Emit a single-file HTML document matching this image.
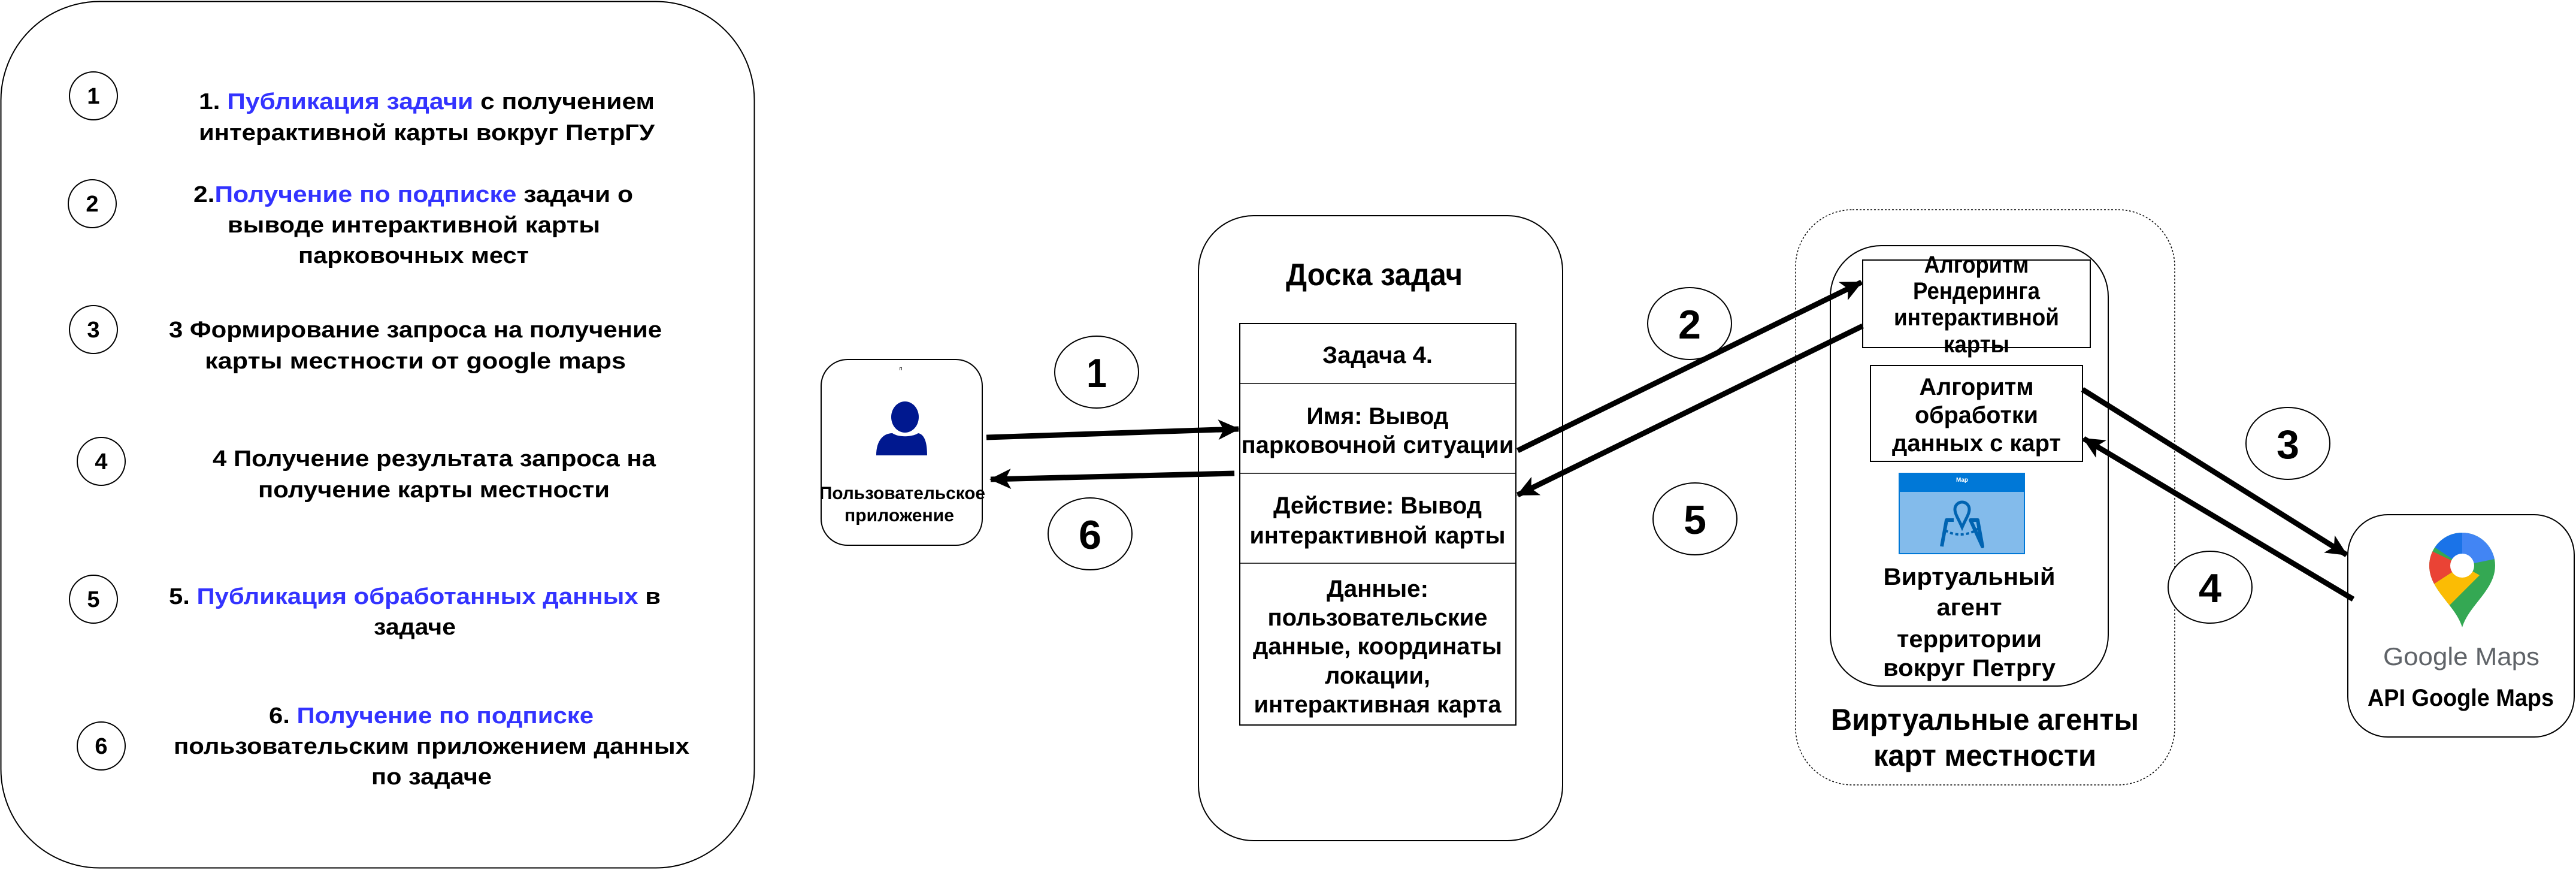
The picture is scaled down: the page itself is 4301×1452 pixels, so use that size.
<!DOCTYPE html>
<html><head><meta charset="utf-8"><style>
html,body{margin:0;padding:0;background:#fff;width:4301px;height:1452px;overflow:hidden}
svg{display:block}
text{font-family:"Liberation Sans",Arial,sans-serif;font-weight:bold;fill:#000}
.L{font-size:38px}
.c{font-size:40px}
.b{fill:#3333ff}
</style></head><body>
<svg width="4301" height="1452" viewBox="0 0 4301 1452" xmlns="http://www.w3.org/2000/svg">
<defs>
<marker id="ah" markerUnits="userSpaceOnUse" markerWidth="40" markerHeight="34" refX="34" refY="17" orient="auto">
<path d="M0,0 L36,17 L0,34 L9,17 Z" fill="#000"/>
</marker>
<clipPath id="pin"><path d="M4111 1047 C4100 1010 4056 985 4056 944 A55 55 0 1 1 4166 944 C4166 985 4122 1010 4111 1047 Z"/></clipPath>
</defs>

<!-- left panel -->
<rect x="1.5" y="2.5" width="1258" height="1446" rx="165" ry="165" fill="#fff" stroke="#000" stroke-width="2"/>
<g fill="#fff" stroke="#000" stroke-width="2">
<ellipse cx="156" cy="160" rx="40" ry="40"/>
<ellipse cx="154" cy="340" rx="40" ry="40"/>
<ellipse cx="156" cy="550" rx="40" ry="40"/>
<ellipse cx="169" cy="770" rx="40" ry="40"/>
<ellipse cx="156" cy="1000" rx="40" ry="40"/>
<ellipse cx="169" cy="1245" rx="40" ry="40"/>
</g>
<g class="L" text-anchor="middle">
<text x="156" y="173">1</text>
<text x="154" y="353">2</text>
<text x="156" y="563">3</text>
<text x="169" y="783">4</text>
<text x="156" y="1013">5</text>
<text x="169" y="1258">6</text>
</g>
<g class="L">
<text x="332" y="182" textLength="761" lengthAdjust="spacingAndGlyphs">1.  <tspan class="b">Публикация задачи</tspan> с получением</text>
<text x="332" y="234" textLength="761" lengthAdjust="spacingAndGlyphs">интерактивной карты вокруг ПетрГУ</text>
<text x="323" y="337" textLength="734" lengthAdjust="spacingAndGlyphs">2.<tspan class="b">Получение  по подписке</tspan> задачи о</text>
<text x="380" y="388" textLength="622" lengthAdjust="spacingAndGlyphs">выводе интерактивной карты</text>
<text x="498" y="439" textLength="385" lengthAdjust="spacingAndGlyphs">парковочных мест</text>
<text x="282" y="563" textLength="823" lengthAdjust="spacingAndGlyphs">3 Формирование запроса на получение</text>
<text x="342" y="615" textLength="703" lengthAdjust="spacingAndGlyphs">карты местности  от  google maps</text>
<text x="355" y="778" textLength="740" lengthAdjust="spacingAndGlyphs">4 Получение результата запроса на</text>
<text x="431" y="830" textLength="587" lengthAdjust="spacingAndGlyphs">получение карты местности</text>
<text x="282" y="1008" textLength="821" lengthAdjust="spacingAndGlyphs">5. <tspan class="b">Публикация обработанных данных</tspan> в</text>
<text x="624" y="1059" textLength="137" lengthAdjust="spacingAndGlyphs">задаче</text>
<text x="449" y="1207" textLength="542" lengthAdjust="spacingAndGlyphs">6. <tspan class="b">Получение по подписке</tspan></text>
<text x="290" y="1258" textLength="861" lengthAdjust="spacingAndGlyphs">пользовательским приложением данных</text>
<text x="620" y="1309" textLength="201" lengthAdjust="spacingAndGlyphs">по задаче</text>
</g>

<!-- user app -->
<rect x="1371" y="600" width="269" height="310" rx="44" ry="44" fill="#fff" stroke="#000" stroke-width="2"/>
<text x="1504" y="618" font-size="9" text-anchor="middle" style="font-weight:normal">п</text>
<ellipse cx="1511" cy="696" rx="23" ry="26" fill="#00188f"/>
<path d="M1463 760 C1463 735 1475 723 1490 723 C1500 730 1522 730 1533 723 C1545 725 1548 742 1548 760 Z" fill="#00188f"/>
<text x="1368" y="833" font-size="30" textLength="277" lengthAdjust="spacingAndGlyphs">Пользовательское</text>
<text x="1410" y="870" font-size="30" textLength="183" lengthAdjust="spacingAndGlyphs">приложение</text>

<!-- circles 1,6 -->
<ellipse cx="1831" cy="621" rx="70" ry="60" fill="#fff" stroke="#000" stroke-width="2"/>
<ellipse cx="1820" cy="891" rx="70" ry="60" fill="#fff" stroke="#000" stroke-width="2"/>
<text x="1831" y="646" font-size="68" text-anchor="middle" textLength="34" lengthAdjust="spacingAndGlyphs">1</text>
<text x="1820" y="916" font-size="68" text-anchor="middle" textLength="38" lengthAdjust="spacingAndGlyphs">6</text>

<!-- board -->
<rect x="2001" y="360" width="608" height="1043" rx="92" ry="92" fill="#fff" stroke="#000" stroke-width="2"/>
<text x="2147" y="476" font-size="52" textLength="295" lengthAdjust="spacingAndGlyphs">Доска задач</text>
<rect x="2070" y="540" width="461" height="670" fill="#fff" stroke="#000" stroke-width="2"/>
<g stroke="#000" stroke-width="1.5"><line x1="2070" y1="640" x2="2531" y2="640"/><line x1="2070" y1="790" x2="2531" y2="790"/><line x1="2070" y1="940" x2="2531" y2="940"/></g>
<g class="c" text-anchor="middle">
<text x="2300" y="606" textLength="184" lengthAdjust="spacingAndGlyphs">Задача 4.</text>
<text x="2300" y="708" textLength="237" lengthAdjust="spacingAndGlyphs">Имя: Вывод</text>
<text x="2300" y="756" textLength="455" lengthAdjust="spacingAndGlyphs">парковочной ситуации</text>
<text x="2300" y="857" textLength="348" lengthAdjust="spacingAndGlyphs">Действие: Вывод</text>
<text x="2300" y="907" textLength="427" lengthAdjust="spacingAndGlyphs">интерактивной карты</text>
<text x="2300" y="996" textLength="170" lengthAdjust="spacingAndGlyphs">Данные:</text>
<text x="2300" y="1044" textLength="367" lengthAdjust="spacingAndGlyphs">пользовательские</text>
<text x="2300" y="1092" textLength="416" lengthAdjust="spacingAndGlyphs">данные, координаты</text>
<text x="2300" y="1141" textLength="176" lengthAdjust="spacingAndGlyphs">локации,</text>
<text x="2300" y="1189" textLength="413" lengthAdjust="spacingAndGlyphs">интерактивная карта</text>
</g>

<!-- virtual agents -->
<rect x="2998" y="350" width="633" height="960" rx="95" ry="95" fill="#fff" stroke="#000" stroke-width="1.5" stroke-dasharray="3,3"/>
<rect x="3056" y="410" width="464" height="735" rx="85" ry="85" fill="#fff" stroke="#000" stroke-width="2"/>
<rect x="3110" y="434" width="380" height="146" fill="#fff" stroke="#000" stroke-width="2"/>
<g class="c" text-anchor="middle" font-size="38">
<text x="3300" y="455" textLength="175" lengthAdjust="spacingAndGlyphs">Алгоритм</text>
<text x="3300" y="499" textLength="212" lengthAdjust="spacingAndGlyphs">Рендеринга</text>
<text x="3300" y="543" textLength="276" lengthAdjust="spacingAndGlyphs">интерактивной</text>
<text x="3300" y="588" textLength="110" lengthAdjust="spacingAndGlyphs">карты</text>
</g>
<rect x="3123" y="610" width="354" height="160" fill="#fff" stroke="#000" stroke-width="2"/>
<g class="c" text-anchor="middle" font-size="38">
<text x="3300" y="659" textLength="191" lengthAdjust="spacingAndGlyphs">Алгоритм</text>
<text x="3300" y="706" textLength="206" lengthAdjust="spacingAndGlyphs">обработки</text>
<text x="3300" y="753" textLength="282" lengthAdjust="spacingAndGlyphs">данных с карт</text>
</g>
<rect x="3171" y="790" width="209" height="134" fill="#83bbeb" stroke="#0078d7" stroke-width="2"/>
<rect x="3171" y="790" width="209" height="31" fill="#0078d7"/>
<text x="3276" y="804" font-size="10" text-anchor="middle" style="fill:#fff">Map</text>
<path d="M3242 912 L3250 868 L3262 868 M3290 868 L3302 868 L3310 912 Z" fill="none" stroke="#0063b1" stroke-width="6" stroke-linejoin="round"/>
<path d="M3276 880 C3270 866 3264 858 3264 850 A12 12 0 1 1 3288 850 C3288 858 3282 866 3276 880 Z" fill="none" stroke="#0063b1" stroke-width="5"/>
<path d="M3248 885 C3262 895 3290 895 3305 880" fill="none" stroke="#0063b1" stroke-width="4" stroke-dasharray="5,4"/>
<g class="c" text-anchor="middle" font-size="44">
<text x="3288" y="976" textLength="287" lengthAdjust="spacingAndGlyphs">Виртуальный</text>
<text x="3288" y="1027" textLength="109" lengthAdjust="spacingAndGlyphs">агент</text>
<text x="3288" y="1080" textLength="242" lengthAdjust="spacingAndGlyphs">территории</text>
<text x="3288" y="1128" textLength="288" lengthAdjust="spacingAndGlyphs">вокруг Петргу</text>
<text x="3314" y="1218" font-size="50" textLength="514" lengthAdjust="spacingAndGlyphs">Виртуальные агенты</text>
<text x="3314" y="1278" font-size="50" textLength="372" lengthAdjust="spacingAndGlyphs">карт местности</text>
</g>

<!-- circles 2,5,3,4 -->
<g fill="#fff" stroke="#000" stroke-width="2">
<ellipse cx="2821" cy="540" rx="70" ry="60"/>
<ellipse cx="2830" cy="866" rx="70" ry="60"/>
<ellipse cx="3820" cy="740" rx="70" ry="60"/>
<ellipse cx="3690" cy="980" rx="70" ry="60"/>
</g>
<g font-size="68" text-anchor="middle">
<text x="2821" y="565" textLength="38" lengthAdjust="spacingAndGlyphs">2</text>
<text x="2830" y="891" textLength="38" lengthAdjust="spacingAndGlyphs">5</text>
<text x="3820" y="765" textLength="38" lengthAdjust="spacingAndGlyphs">3</text>
<text x="3690" y="1005" textLength="38" lengthAdjust="spacingAndGlyphs">4</text>
</g>

<!-- google maps -->
<rect x="3920" y="859" width="378" height="371" rx="67" ry="67" fill="#fff" stroke="#000" stroke-width="2"/>
<g clip-path="url(#pin)">
<rect x="4040" y="880" width="140" height="180" fill="#34a853"/>
<path d="M4111 880 L4180 880 L4180 930 L4111 944 Z" fill="#4285f4"/>
<path d="M4040 880 L4111 880 L4111 944 L4060 910 Z" fill="#1a73e8"/>
<path d="M4040 910 L4111 944 L4040 990 Z" fill="#ea4335"/>
<path d="M4040 990 L4111 944 L4140 960 L4090 1010 L4040 1010 Z" fill="#fbbc04"/>
</g>
<circle cx="4111" cy="944" r="20" fill="#fff"/>
<text x="3979" y="1110" font-size="42" textLength="261" lengthAdjust="spacingAndGlyphs" style="font-weight:normal;fill:#5f6368">Google Maps</text>
<text x="3953" y="1178" font-size="40" textLength="311" lengthAdjust="spacingAndGlyphs">API  Google Maps</text>

<!-- arrows -->
<g stroke="#000" stroke-width="9" fill="none">
<line x1="1647" y1="730" x2="2068" y2="716" marker-end="url(#ah)"/>
<line x1="2061" y1="790" x2="1654" y2="800" marker-end="url(#ah)"/>
<line x1="2534" y1="752" x2="3108" y2="471" marker-end="url(#ah)"/>
<line x1="3110" y1="544" x2="2534" y2="826" marker-end="url(#ah)"/>
<line x1="3477" y1="650" x2="3918" y2="926" marker-end="url(#ah)"/>
<line x1="3929" y1="1000" x2="3479" y2="732" marker-end="url(#ah)"/>
</g>
</svg>
</body></html>
